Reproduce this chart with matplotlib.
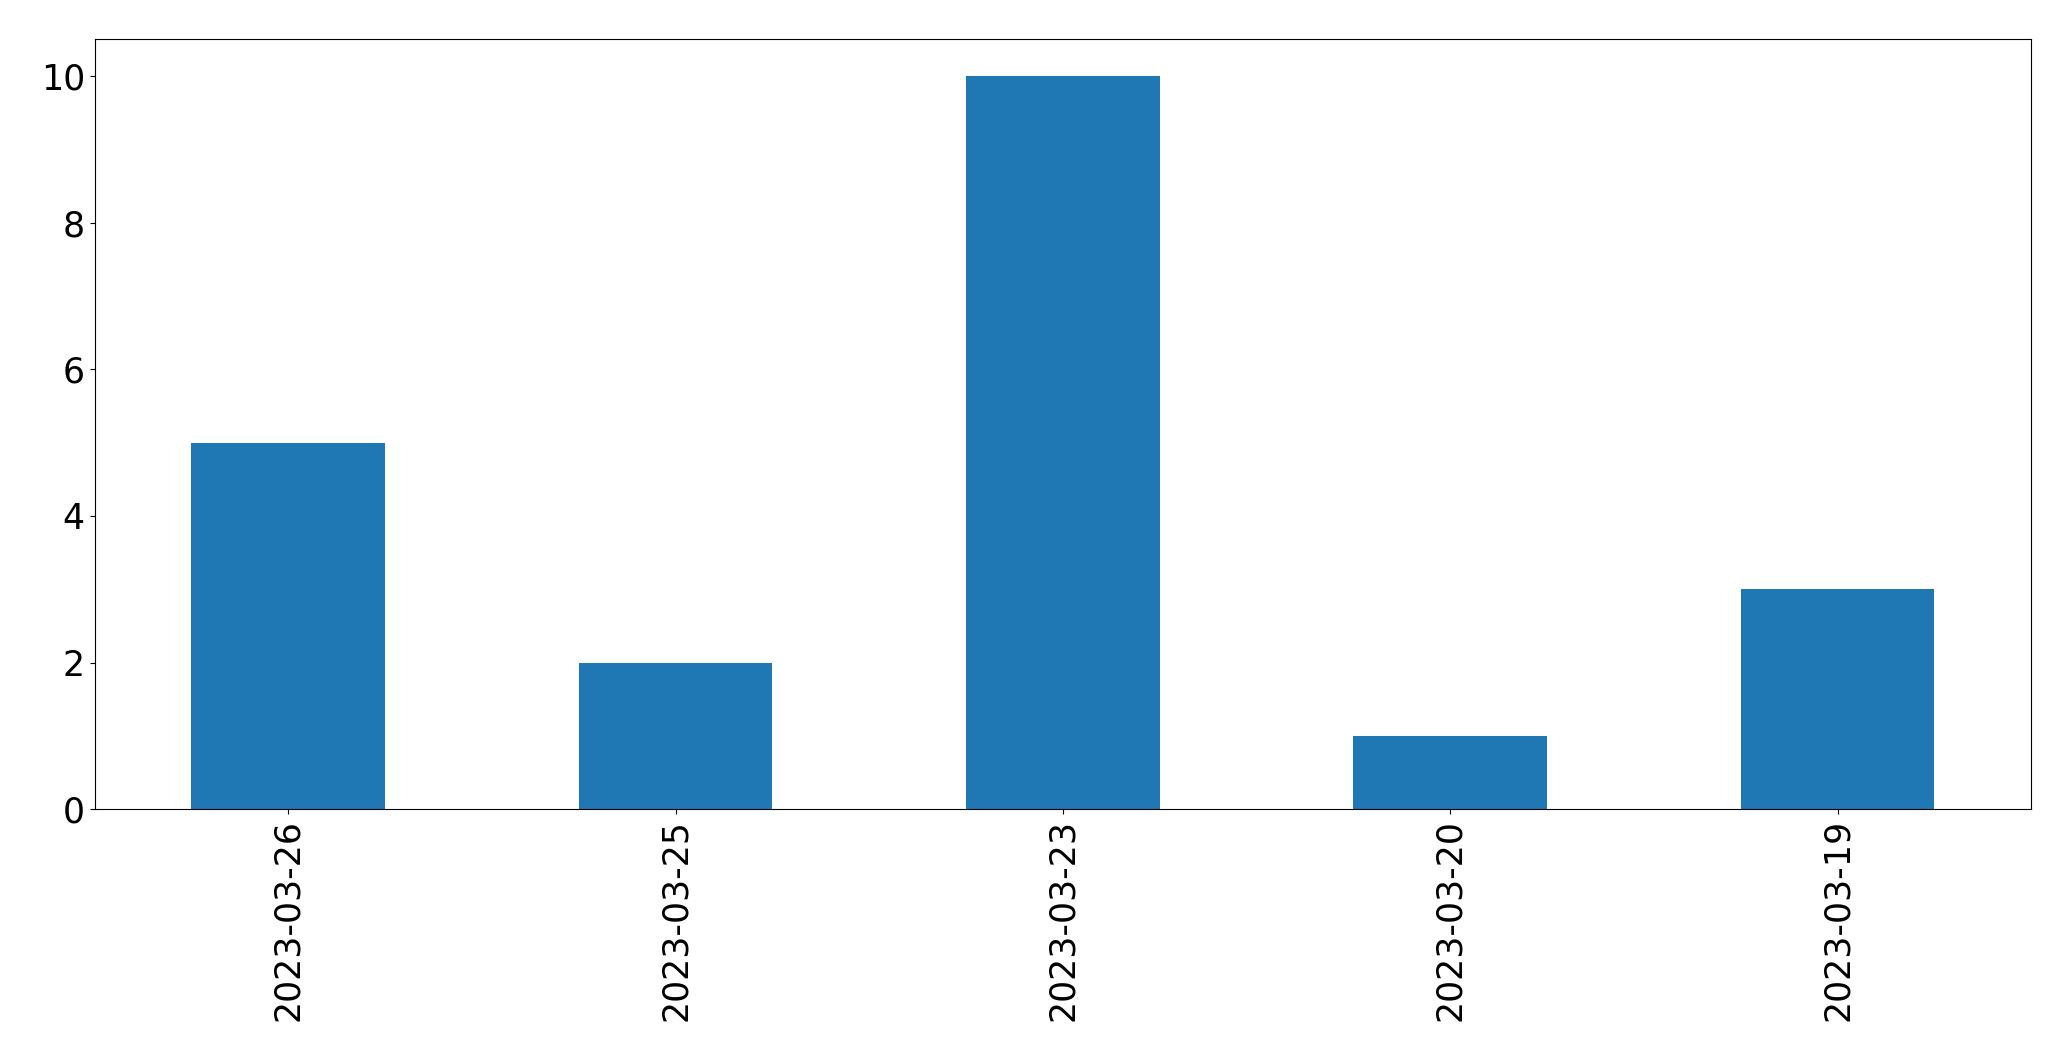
import matplotlib
matplotlib.use("Agg")
import matplotlib.pyplot as plt
import pandas as pd

dates = ["2023-03-26", "2023-03-25", "2023-03-23", "2023-03-20", "2023-03-19"]
counts = [5, 2, 10, 1, 3]

fig = plt.figure(figsize=(20.71, 10.61), dpi=100)
ax = fig.add_axes([0.0457, 0.2372, 0.9351, 0.7258])
s = pd.Series(counts, index=dates)
s.plot(kind="bar", ax=ax, color="#1f77b4", width=0.5)
ax.tick_params(axis="both", labelsize=25)
ax.set_xlabel("")
fig.savefig("out.png", dpi=100)
